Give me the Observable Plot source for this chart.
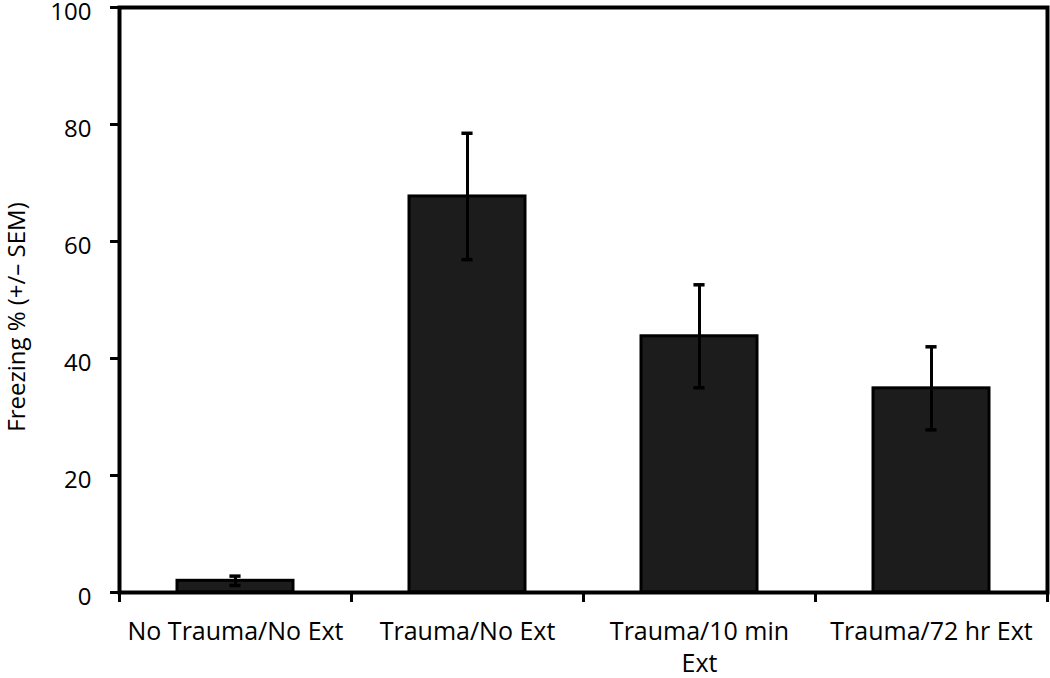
<!DOCTYPE html>
<html>
<head>
<meta charset="utf-8">
<script src="https://cdn.jsdelivr.net/npm/d3@7"></script>
<script src="https://cdn.jsdelivr.net/npm/@observablehq/plot@0.6"></script>
<style>
  html, body { margin: 0; padding: 0; background: #fff; }
  svg { display: block; }
</style>
</head>
<body>
<div id="chart"></div>
<script>
const categories = ["No Trauma/No Ext", "Trauma/No Ext", "Trauma/10 min Ext", "Trauma/72 hr Ext"];
const tickLabels = ["No Trauma/No Ext", "Trauma/No Ext", "Trauma/10 min\nExt", "Trauma/72 hr Ext"];
const means = [2.0, 67.7, 43.8, 34.9];
const sems = [0.8, 10.8, 8.8, 7.1];
const yTicks = [0, 20, 40, 60, 80, 100];
const yTitle = "Freezing % (+/\u2013 SEM)";

const data = categories.map((c, i) => ({i, category: c, mean: means[i], sem: sems[i]}));
const caps = data.flatMap(d => [{i: d.i, y: d.mean - d.sem}, {i: d.i, y: d.mean + d.sem}]);
const bounds = d3.range(categories.length + 1).map(k => k - 0.5);
const half = 0.25;
const capHalf = 0.024;

const chart = Plot.plot({
  width: 1050,
  height: 678,
  marginTop: 7,
  marginRight: 3,
  marginBottom: 86,
  marginLeft: 119,
  style: {fontFamily: "'Open Sans', sans-serif", color: "black", background: "white"},
  x: {type: "linear", domain: [-0.5, categories.length - 0.5]},
  y: {domain: [0, 100]},
  marks: [
    Plot.rect(data, {x1: d => d.i - half, x2: d => d.i + half, y1: 0, y2: "mean", fill: "#1c1c1c", stroke: "black", strokeWidth: 3}),
    Plot.ruleX(data, {x: "i", y1: d => d.mean - d.sem, y2: d => d.mean + d.sem, stroke: "black", strokeWidth: 3}),
    Plot.ruleY(caps, {y: "y", x1: d => d.i - capHalf, x2: d => d.i + capHalf, stroke: "black", strokeWidth: 3.5}),
    Plot.frame({stroke: "black", strokeWidth: 4}),
    Plot.axisY({ticks: yTicks, tickSize: 9, strokeWidth: 3, tickFormat: () => "", label: null}),
    Plot.axisY({ticks: yTicks, tickSize: 0, tickPadding: 28, fontSize: 24, dy: 5, label: null}),
    Plot.axisX({ticks: bounds, tickSize: 10, strokeWidth: 3, tickFormat: () => "", label: null}),
    Plot.axisX({ticks: d3.range(categories.length), tickSize: 0, tickPadding: 24, fontSize: 25, lineHeight: 1.3, tickFormat: i => tickLabels[i], label: null}),
    Plot.text([yTitle], {frameAnchor: "left", rotate: -90, textAnchor: "middle", dx: -102, dy: 17, fontSize: 24, fill: "black"})
  ]
});
document.getElementById("chart").appendChild(chart);
</script>
</body>
</html>
